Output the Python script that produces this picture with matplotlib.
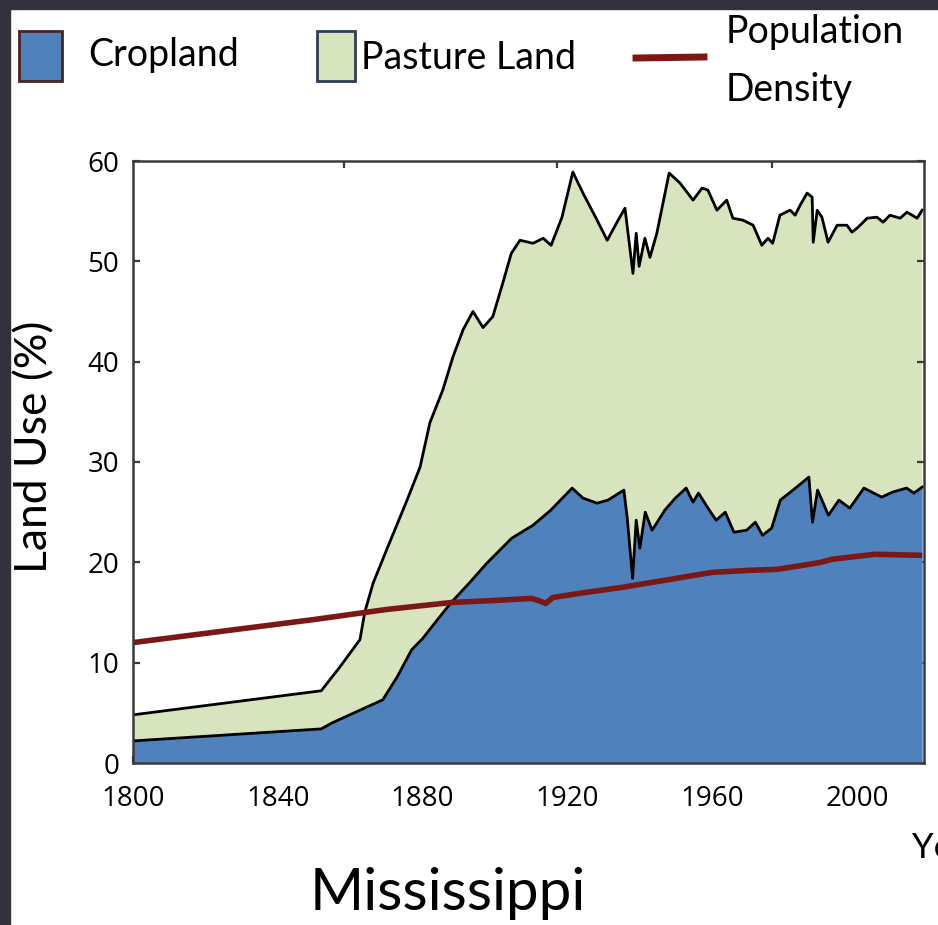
import matplotlib
matplotlib.use("Agg")
import matplotlib.pyplot as plt
import matplotlib.patches as patches
from matplotlib.lines import Line2D
import numpy as np

plt.rcParams['font.family'] = ['Lato', 'DejaVu Sans']

# --- Data ---
total_years = [1800, 1852, 1857, 1862.7, 1864, 1866.3, 1870, 1875.7, 1879.3, 1882, 1885.6,
               1888.4, 1891.2, 1893.9, 1896.7, 1899.4, 1902.2, 1904.5, 1906.9, 1910.5,
               1913.3, 1915.5, 1918.5, 1921.5, 1924.3, 1928.2, 1931, 1933.7, 1935.9,
               1938.1, 1939, 1939.8, 1941.4, 1942.8, 1944.7, 1948.1, 1951.1, 1954.7,
               1957.2, 1958.8, 1961.3, 1964, 1965.7, 1968.5, 1971.3, 1973.7, 1975.4,
               1976.7, 1978.7, 1981.5, 1982.9, 1984.3, 1986.2, 1987.6, 1987.9, 1989,
               1990.3, 1992, 1994.5, 1997.2, 1998.6, 2000.3, 2002.8, 2005.5, 2007.2,
               2009.1, 2011.9, 2013.8, 2016.6, 2018]
total_land = [4.8, 7.2, 9.5, 12.3, 15.0, 17.9, 21.2, 26.2, 29.5, 33.9, 37.2,
              40.5, 43.2, 45.0, 43.4, 44.5, 47.9, 50.8, 52.1, 51.8,
              52.3, 51.6, 54.4, 58.9, 56.8, 54.1, 52.1, 53.9, 55.3,
              48.8, 52.8, 49.5, 52.3, 50.4, 52.8, 58.8, 57.8, 56.1,
              57.3, 57.1, 55.1, 56.1, 54.3, 54.1, 53.6, 51.6, 52.3,
              51.8, 54.6, 55.1, 54.6, 55.6, 56.8, 56.4, 51.9, 55.1,
              54.4, 51.9, 53.6, 53.6, 52.9, 53.4, 54.3, 54.4, 53.9,
              54.6, 54.3, 54.9, 54.3, 55.1]

crop_years = [1800, 1852, 1855, 1869, 1873, 1877, 1880, 1882.6, 1887.9, 1892.8, 1897.7,
              1904.6, 1910.5, 1915.4, 1921.3, 1924.3, 1928.2, 1931.2, 1935.6, 1936.5,
              1938, 1939, 1940, 1941.5, 1943.4, 1946.9, 1949.8, 1952.8, 1954.7,
              1956.2, 1959.2, 1961.1, 1963.6, 1966, 1969.5, 1971.9, 1973.9, 1976.4,
              1978.8, 1982.3, 1984.7, 1986.7, 1987.7, 1989.1, 1992.1, 1995, 1998,
              2001.9, 2006.8, 2009.8, 2013.7, 2015.7, 2018]
cropland = [2.2, 3.4, 4.0, 6.3, 8.6, 11.3, 12.4, 13.6, 16.0, 17.9, 19.9,
            22.4, 23.7, 25.2, 27.4, 26.4, 25.9, 26.2, 27.2, 24.5,
            18.4, 24.2, 21.4, 25.0, 23.2, 25.2, 26.4, 27.4, 26.0,
            26.9, 25.2, 24.2, 25.0, 23.0, 23.2, 24.0, 22.7, 23.4,
            26.2, 27.2, 27.9, 28.5, 24.0, 27.2, 24.7, 26.2, 25.4,
            27.4, 26.5, 27.0, 27.4, 26.9, 27.5]

pop_years = [1800, 1850, 1870, 1888, 1900, 1910, 1912, 1914, 1916, 1925, 1935, 1945,
             1955, 1960, 1970, 1978, 1985, 1990, 1993, 2000, 2005, 2018]
pop_density = [12.0, 14.3, 15.3, 16.0, 16.2, 16.4, 16.2, 15.9, 16.5, 17.0, 17.5, 18.1,
               18.7, 19.0, 19.2, 19.3, 19.7, 20.0, 20.3, 20.6, 20.8, 20.7]

x_ticks = [1800, 1840, 1880, 1920, 1960, 2000]
y_ticks = [0, 10, 20, 30, 40, 50, 60]
top_ticks = [1858.3, 1917.1, 1976.5]

crop_color = '#4f81bd'
pasture_color = '#d7e4bd'
pop_color = '#7a1717'
frame_color = '#34313f'

W, H = 938, 925
fig = plt.figure(figsize=(W / 100, H / 100), dpi=100)
fig.patch.set_facecolor('white')

# dark frame strips of the screenshot
fig.add_artist(patches.Rectangle((0, 1 - 9 / H), 1, 9 / H, transform=fig.transFigure,
                                 color=frame_color, zorder=10))
fig.add_artist(patches.Rectangle((0, 0), 10 / W, 1, transform=fig.transFigure,
                                 color=frame_color, zorder=10))

ax = fig.add_axes([133 / W, 1 - 763 / H, 791 / W, 602 / H])

# pasture sits on top of cropland: polygon between the two outlines
poly_x = np.concatenate([total_years, crop_years[::-1]])
poly_y = np.concatenate([total_land, cropland[::-1]])
ax.fill(poly_x, poly_y, color=pasture_color, lw=0, zorder=1)
ax.fill_between(crop_years, 0, cropland, color=crop_color, lw=0, zorder=2)
ax.plot(total_years, total_land, color='black', lw=2.0, zorder=3)
ax.plot(crop_years, cropland, color='black', lw=2.0, zorder=3)
ax.plot(pop_years, pop_density, color=pop_color, lw=4.0, zorder=4, solid_capstyle='butt')

ax.set_xlim(1800, 2018.5)
ax.set_ylim(0, 60)
ax.set_xticks(x_ticks)
ax.set_yticks(y_ticks)
for s in ax.spines.values():
    s.set_color('#3a3a3a')
    s.set_linewidth(1.8)
    s.set_zorder(5)
ax.tick_params(axis='both', direction='in', length=5, width=1.6, color='#3a3a3a',
               labelsize=20, right=True)
ax.tick_params(axis='x', pad=16)
ax.tick_params(axis='y', pad=10)
for lab in ax.get_xticklabels() + ax.get_yticklabels():
    lab.set_fontfamily(['Open Sans', 'DejaVu Sans'])
    lab.set_fontweight('medium')

top = ax.secondary_xaxis('top')
top.set_xticks(top_ticks)
top.set_xticklabels([])
top.tick_params(direction='in', length=5, width=1.6, color='#3a3a3a')
top.spines['top'].set_visible(False)

fig.text(35 / W, 1 - 447 / H, 'Land Use (%)', rotation=90, ha='center', va='center',
         fontsize=32)
fig.text(448 / W, 1 - 893 / H, 'Mississippi', ha='center', va='center', fontsize=42)
fig.text(912 / W, 1 - 848 / H, 'Year', ha='left', va='center', fontsize=25)

# legend drawn along the top
fig.add_artist(patches.Rectangle((19 / W, 1 - 81 / H), 43 / W, 50 / H, transform=fig.transFigure,
                                 facecolor=crop_color, edgecolor='#4a2424', lw=2))
fig.text(88 / W, 1 - 55 / H, 'Cropland', ha='left', va='center', fontsize=27)
fig.add_artist(patches.Rectangle((317 / W, 1 - 81 / H), 38 / W, 50 / H, transform=fig.transFigure,
                                 facecolor=pasture_color, edgecolor='#2f3f55', lw=2))
fig.text(361 / W, 1 - 58 / H, 'Pasture Land', ha='left', va='center', fontsize=27)
fig.add_artist(Line2D([636 / W, 704 / W], [1 - 58 / H, 1 - 57 / H], transform=fig.transFigure,
                      color=pop_color, lw=5))
fig.text(726 / W, 1 - 32 / H, 'Population', ha='left', va='center', fontsize=27)
fig.text(726 / W, 1 - 90 / H, 'Density', ha='left', va='center', fontsize=27)

fig.savefig('out.png', dpi=100)
